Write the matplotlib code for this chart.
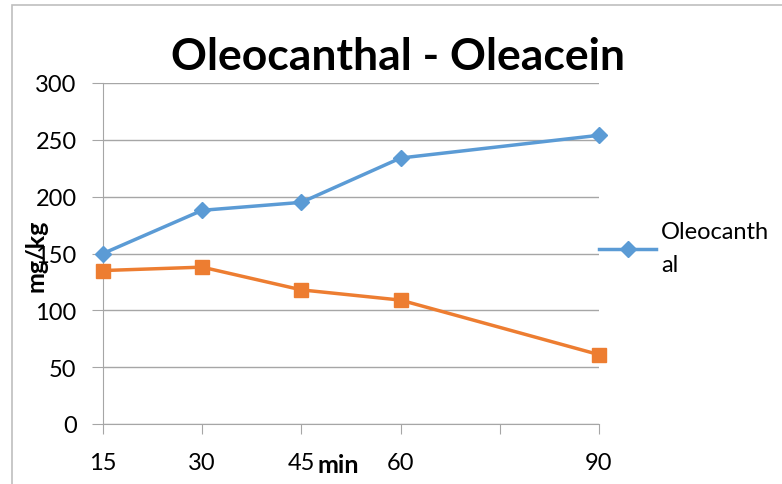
import numpy as np
import matplotlib.pyplot as plt
from matplotlib.patches import Rectangle

# data
minutes = [15, 30, 45, 60, 90]
oleocanthal = [150, 188, 195, 234, 254]
oleacein = [135, 138, 118, 109, 61]
x_ticks = [15, 30, 45, 60, 75, 90]
x_labels = ['15', '30', '45', '60', '', '90']
y_ticks = [0, 50, 100, 150, 200, 250, 300]

plt.rcParams['font.family'] = ['Lato', 'DejaVu Sans']

W, H = 782, 485
fig = plt.figure(figsize=(W / 100, H / 100), dpi=100)
ax = fig.add_axes([103 / W, 1 - 425 / H, (599 - 103) / W, (425 - 84) / H])

ax.plot(minutes, oleocanthal, color='#5B9BD5', lw=2.5, marker='D', ms=8,
        label='Oleocanth\nal', zorder=3, clip_on=False)
ax.plot(minutes, oleacein, color='#ED7D31', lw=2.5, marker='s', ms=9.5,
        zorder=3, clip_on=False)

ax.set_xlim(15, 90)
ax.set_ylim(0, 300)
ax.set_xticks(x_ticks)
ax.set_xticklabels(x_labels)
ax.set_yticks(y_ticks)
ax.set_yticklabels([str(v) for v in y_ticks])
ax.tick_params(axis='x', direction='out', length=7, color='#A6A6A6',
               pad=13, labelsize=17)
ax.tick_params(axis='y', length=8, color='#A6A6A6', pad=11, labelsize=17)
ax.grid(axis='y', color='#A6A6A6', lw=1)
ax.set_axisbelow(True)
for s in ['top', 'right']:
    ax.spines[s].set_visible(False)
ax.spines['left'].set_color('#A6A6A6')
ax.spines['bottom'].set_color('#A6A6A6')

fig.text(398 / W, 1 - 57 / H, 'Oleocanthal - Oleacein', fontsize=32,
         fontweight='bold', ha='center', va='center')
fig.text(36 / W, 1 - 256 / H, 'mg/kg', fontsize=18, fontweight='bold',
         rotation=90, ha='center', va='center')
fig.text(338 / W, 1 - 466 / H, 'min', fontsize=18, fontweight='bold',
         ha='center', va='center')

leg = ax.legend(loc='upper left', bbox_to_anchor=(590 / W, 1 - 213 / H),
                bbox_transform=fig.transFigure, frameon=False, fontsize=17,
                handlelength=2.4, handletextpad=0.2, borderaxespad=0)
for t in leg.get_texts():
    t.set_linespacing(1.7)

fig.patches.append(Rectangle((12 / W, -0.05), 1.1, 1 - 6 / H + 0.05,
                             transform=fig.transFigure, fill=False,
                             edgecolor='#BFBFBF', lw=1.2))

fig.savefig('out.png', dpi=100)
